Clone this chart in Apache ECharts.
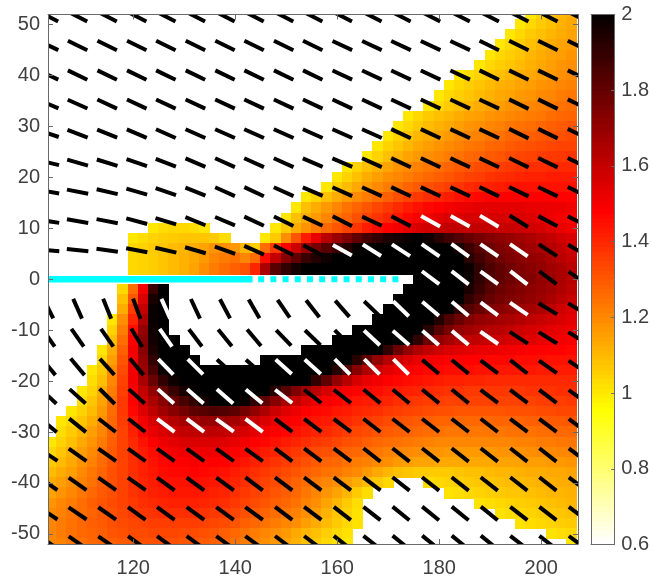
<!DOCTYPE html>
<html><head><meta charset="utf-8"><style>html,body{margin:0;padding:0;background:#fff}#c{width:652px;height:578px}</style>
<script src="https://cdn.jsdelivr.net/npm/echarts@6/dist/echarts.min.js"></script></head>
<body><div id="c"></div>
<script>
const _=n=>Array(n).fill(0), K=n=>Array(n).fill(200);
const xTicks=[120,140,160,180,200];
const yTicks=[-50,-40,-30,-20,-10,0,10,20,30,40,50];
const barTicks=[0.6,0.8,1,1.2,1.4,1.6,1.8,2];
const heatX=[];for(let x=104;x<=206;x+=2)heatX.push(x);
// field values x100, 0 = blank, per row
const h52=[..._(47),100,104,107,110,112];
const h50=[..._(46),100,103,106,108,111,113];
const h48=[..._(45),100,103,106,108,110,112,114];
const h46=[..._(44),100,103,105,108,110,112,114,115];
const h44=[..._(43),100,103,105,107,110,112,114,115,117];
const h42=[..._(42),100,103,105,107,109,111,113,115,117,118];
const h40=[..._(40),100,102,104,106,108,110,112,113,115,116,118,119];
const h38=[..._(39),100,103,105,107,109,111,112,114,115,117,118,120,121];
const h36=[..._(38),100,103,105,107,109,111,113,114,116,117,119,120,122,123];
const h34=[..._(37),100,103,106,108,110,112,114,115,117,118,120,121,122,124,125];
const h32=[..._(35),100,103,106,108,110,112,114,115,117,118,120,121,122,123,125,126,127];
const h30=[..._(34),100,103,106,109,111,113,115,117,118,120,121,123,124,125,126,128,129,130];
const h28=[..._(33),100,104,107,110,112,114,116,118,120,121,123,124,126,127,128,129,130,131,132];
const h26=[..._(32),100,104,107,110,113,115,117,119,121,123,124,126,127,129,130,131,132,133,134,134];
const h24=[..._(31),100,104,108,111,114,116,118,120,122,124,126,127,129,130,132,133,134,135,136,136,137];
const h22=[..._(29),100,104,108,111,114,117,119,121,123,125,127,129,130,132,133,135,136,137,138,138,139,139,139];
const h20=[..._(28),100,104,108,112,115,118,120,122,124,126,128,130,132,134,135,137,138,139,140,141,141,142,142,142];
const h18=[..._(27),100,105,109,113,116,119,122,124,127,129,131,133,135,137,139,140,141,142,143,144,144,144,144,144,144];
const h16=[..._(25),100,104,108,112,116,119,122,125,128,131,134,136,138,140,142,144,145,146,147,148,148,148,148,148,148,147,147];
const h14=[..._(24),100,108,112,116,120,124,127,130,133,136,139,142,144,146,148,150,151,152,153,153,153,153,153,152,152,151,151,150];
const h12=[..._(23),100,108,112,116,120,124,127,131,134,137,140,143,146,149,151,153,155,155,156,156,156,156,155,155,154,153,151,149,147];
const h10=[..._(10),100,102,103,103,102,100,..._(6),100,106,112,117,122,126,130,134,137,142,145,148,150,153,155,157,159,160,160,160,160,160,159,159,158,157,156,154,152,150];
const h8=[..._(8),100,102,104,105,106,107,107,107,106,102,..._(3),100,106,118,130,142,152,162,168,174,180,186,190,194,196,198,200,197,192,187,183,179,176,173,171,169,167,165,162,160,157,155];
const h6=[..._(8),103,104,106,107,109,110,112,114,117,118,116,110,105,125,136,148,158,168,175,182,188,193,198,...K(9),195,188,182,178,174,172,170,167,165,163,160,157];
const h4=[..._(8),103,104,105,107,109,111,113,116,120,122,124,120,125,145,160,172,180,188,193,197,...K(13),192,186,181,177,174,172,170,168,165,162,159];
const h2=[..._(8),103,104,105,107,109,111,114,118,122,125,128,130,140,165,182,190,196,...K(16),198,190,184,180,177,174,172,170,167,165,162];
const h0=[..._(36),...K(5),197,190,184,180,177,175,173,170,168,165,162,160].slice(0,52);
const hm2=[..._(7),103,125,150,188,200,..._(23),...K(6),195,188,182,178,175,173,171,169,167,164,161];
const hm4=[..._(7),108,130,155,195,200,..._(22),...K(7),190,184,179,176,174,172,170,168,165,162,159];
const hm6=[..._(7),112,135,160,198,200,..._(21),...K(7),190,183,178,174,172,170,168,166,164,161,158,155];
const hm8=[..._(6),100,118,140,165,198,200,..._(20),...K(6),193,184,178,173,170,168,166,165,163,161,159,157,155,153];
const hm10=[..._(6),104,122,145,170,197,200,..._(18),...K(7),192,182,175,170,167,165,163,162,160,158,156,155,153,152,151];
const hm12=[..._(6),108,125,148,172,196,200,200,..._(15),...K(8),190,178,170,166,163,161,160,159,158,156,155,154,152,151,150,149];
const hm14=[..._(5),100,112,128,150,172,194,200,200,200,..._(11),...K(8),190,178,170,164,160,157,155,154,153,152,152,151,150,149,148,148,147,147,146];
const hm16=[..._(5),103,115,130,150,170,190,200,200,200,200,..._(6),...K(9),192,180,170,163,158,155,152,150,149,148,148,147,147,146,146,146,145,145,145,144,144,144];
const hm18=[..._(4),100,106,118,132,150,168,185,198,...K(16),192,183,172,164,158,154,151,149,147,146,146,145,145,145,144,144,143,143,143,143,142,142,142,142];
const hm20=[..._(4),102,108,120,134,150,165,178,190,197,...K(13),190,180,170,162,156,152,150,148,146,145,144,143,142,141,141,140,140,139,139,139,139,139,139,139,139,139];
const hm22=[..._(3),100,104,112,122,135,148,160,170,180,188,195,199,...K(7),192,182,174,167,161,156,152,149,147,146,145,143,142,141,140,139,138,137,137,136,136,136,136,136,136,137,137,137,138,138];
const hm24=[..._(3),102,107,114,124,136,147,157,165,172,179,185,190,196,199,200,200,198,190,180,172,166,160,155,151,149,147,145,143,142,141,140,138,137,136,135,135,134,134,134,134,134,134,134,134,134,135,135,135,136];
const hm26=[..._(2),100,104,109,116,125,136,146,154,161,167,172,176,180,182,184,183,181,176,170,164,158,154,151,148,146,145,143,142,140,139,138,136,135,134,133,132,131,131,130,130,130,130,130,131,131,131,132,132,133,133];
const hm28=[0,100,103,107,112,118,126,135,143,150,156,160,163,166,168,169,169,168,166,163,159,155,152,149,147,145,143,142,140,139,137,135,134,132,131,130,129,128,127,127,126,126,126,126,127,127,127,128,128,129,129,130];
const hm30=[0,102,106,110,115,120,127,134,141,147,152,155,158,160,161,161,161,160,158,156,153,150,148,146,144,142,140,139,137,135,133,132,130,129,128,127,126,125,124,123,123,123,123,123,123,124,124,124,125,125,126,126];
const hm32=[100,104,108,113,117,122,128,134,139,144,148,151,153,155,155,155,155,154,152,150,148,146,144,142,140,138,136,135,133,131,130,128,126,125,124,123,122,121,120,120,120,120,120,120,120,120,121,121,122,122,123,123];
const hm34=[103,107,111,115,119,124,129,134,138,142,145,148,150,151,151,151,151,150,148,146,144,142,140,138,136,134,132,131,129,127,126,124,123,121,120,119,118,117,117,116,116,116,116,116,117,117,117,118,119,119,120,120];
const hm36=[106,109,113,117,121,125,130,134,138,141,144,146,148,148,149,148,148,147,145,143,141,139,137,135,133,131,129,127,126,124,122,121,119,118,116,115,114,114,113,113,113,113,113,113,114,114,114,115,115,116,116,117];
const hm38=[109,112,115,119,123,127,131,134,138,141,143,145,146,146,147,146,145,144,142,140,138,136,134,132,130,128,126,124,123,121,119,116,113,110,108,107,106,106,106,106,107,108,108,109,110,110,111,112,112,113,113,114];
const hm40=[112,115,118,121,124,128,131,134,137,140,142,144,144,144,145,144,143,142,140,138,136,134,132,130,127,125,122,120,118,115,112,109,106,103,0,0,0,102,103,104,105,106,107,107,108,109,109,110,111,111,112,112];
const hm42=[114,117,120,123,126,129,131,134,137,139,141,142,143,143,143,142,141,140,138,136,134,132,130,128,126,123,120,117,114,110,106,102,..._(7),101,102,103,104,105,106,107,107,108,109,110,110,111];
const hm44=[117,120,122,125,128,130,132,134,136,138,139,140,141,141,141,140,139,138,136,134,132,130,128,126,124,121,118,114,110,106,102,..._(11),101,102,103,104,105,106,107,108,109,110];
const hm46=[119,121,123,125,127,129,131,133,135,136,137,138,138,138,138,137,136,135,133,131,129,127,125,123,121,118,115,111,107,104,101,..._(13),101,102,103,104,105,106,107,108];
const hm48=[120,122,124,126,128,129,131,132,133,134,135,135,135,135,135,134,133,132,130,128,126,124,122,120,118,115,112,109,106,103,101,..._(15),101,102,103,104,105,106];
const hm50=[120,122,124,126,127,128,130,131,132,132,133,133,133,132,132,131,130,128,126,124,122,120,118,116,113,110,108,105,103,101,..._(19),101,102,103];
const hm52=[120,121,123,124,126,127,128,129,130,131,131,131,131,130,130,129,128,126,124,122,120,118,116,114,111,108,106,103,101,100,..._(21),100];
const heatRows=[h52,h50,h48,h46,h44,h42,h40,h38,h36,h34,h32,h30,h28,h26,h24,h22,h20,h18,h16,h14,h12,h10,h8,h6,h4,h2,h0,hm2,hm4,hm6,hm8,hm10,hm12,hm14,hm16,hm18,hm20,hm22,hm24,hm26,hm28,hm30,hm32,hm34,hm36,hm38,hm40,hm42,hm44,hm46,hm48,hm50,hm52];
// dash lattice
const dashX=[103.4,109.1,114.9,120.7,126.4,132.2,138,143.7,149.5,155.2,161,166.8,172.5,178.3,184.1,189.8,195.6,201.3,207.1];
const dashY=[51.6,45.9,40.1,34.4,28.6,22.9,17.2,11.4,5.7,0.3,-5.8,-11.5,-17.2,-23,-28.7,-34.5,-40.2,-46,-51.7];
const a0=[-27,-27,-27,-27,-27,-27,-27,-27,-27,-27,-27,-27,-27,-27,-27,-27,-27,-27,-27];
const a1=[-25,-26,-26,-26,-26,-26,-26,-26,-26,-26,-25,-25,-25,-25,-25,-26,-26,-26,-26];
const a2=[-25,-26,-26,-26,-26,-26,-26,-26,-26,-26,-25,-25,-25,-25,-25,-26,-26,-26,-26];
const a3=[-23,-24,-25,-25,-25,-25,-25,-25,-25,-25,-25,-25,-25,-25,-25,-25,-26,-26,-26];
const a4=[-18,-21,-22,-23,-24,-24,-24,-24,-24,-24,-24,-24,-25,-25,-25,-25,-26,-26,-26];
const a5=[-13,-16,-17,-19,-21,-23,-24,-24,-24,-23,-23,-24,-25,-25,-25,-25,-26,-26,-26];
const a6=[-10,-11,-13,-16,-19,-22,-24,-25,-24,-23,-24,-24,-25,-25,-25,-26,-26,-26,-26];
const a7=[-9,-10,-11,-15,-17,-22,-23,-25,-26,-25,-27,-25,-27,-29,-29,-31,-32,-28,-27];
const a8=[-5,-6,-8,-11,-13,-16,-20,-24,-26,-28,-29,-32,-33,-35,-36,-35,-35,-33,-30];
const a9=[null,null,null,null,null,null,null,null,null,null,null,null,null,-37,-38,-36,-38,-37,-35];
const a10=[-64,-66,-68,-70,-66,-65,-62,-60,-56,-52,-49,-44,-44,-40,-40,-37,-35,-31,-30];
const a11=[-55,-55,-55,-59,-55,-53,-51,-50,-46,-44,-45,-43,-41,-41,-40,-35,-33,-32,-32];
const a12=[-50,-50,-48,-50,-46,-45,-42,-41,-42,-42,-45,-45,-45,-40,-39,-37,-38,-35,-35];
const a13=[-43,-42,-45,-42,-42,-41,-41,-40,-38,-38,-38,-39,-40,-39,-39,-37,-37,-37,-36];
const a14=[-40,-39,-38,-38,-37,-37,-36,-37,-37,-37,-37,-38,-38,-38,-38,-38,-37,-37,-37];
const a15=[-34,-35,-35,-36,-36,-36,-36,-36,-37,-37,-37,-38,-38,-38,-38,-38,-38,-38,-37];
const a16=[-35,-35,-35,-35,-36,-36,-36,-37,-37,-37,-37,-37,-38,-38,-38,-38,-38,-38,-37];
const a17=[-34,-34,-35,-36,-36,-36,-36,-36,-37,-37,-38,-38,-39,-39,-39,-39,-38,-38,-37];
const a18=[-35,-35,-35,-36,-36,-36,-36,-36,-37,-37,-38,-38,-39,-39,-39,-39,-38,-38,-37];
const angleRows=[a0,a1,a2,a3,a4,a5,a6,a7,a8,a9,a10,a11,a12,a13,a14,a15,a16,a17,a18];
// dashes drawn white: row index -> column indices
const whiteDashes={7:[13,14,15],8:[10,11,12,13,14,15,16],9:[13,14,15,16],10:[4,12,13,14,15,16],11:[4,11,12,13,14,15],12:[4,5,8,9,10,11,12],13:[4,5,6,7,8],14:[4,5,6,7]};
const crackSolid=[[103.3,0],[143.4,0]];
const crackDotted=[[144.5,0],[172.7,0]];
const barLevels=[];for(let i=0;i<=112;i++)barLevels.push(0.6+i*0.0125);

heatRows.forEach((r,i)=>{if(r.length!==52)throw new Error('row '+i+' len '+r.length)});
const heatData=[];
heatRows.forEach((r,j)=>r.forEach((v,i)=>{if(v>0)heatData.push([heatX[i],52-2*j,v/100]);}));
const dashData=[];
angleRows.forEach((r,j)=>r.forEach((a,i)=>{if(a!==null)dashData.push([dashX[i],dashY[j],a,(whiteDashes[j]||[]).includes(i)?1:0]);}));

const chart=echarts.init(document.getElementById('c'),null,{renderer:'canvas'});
const AX='#6a6a6a',TX='#404040',FF='"Liberation Sans",Arial,sans-serif',FS=20;
const axisBase={axisLine:{show:true,onZero:false,lineStyle:{color:AX,width:1}},splitLine:{show:false},z:6};
function cellRender(p,api){
  const x=api.value(0),y=api.value(1);
  const a=api.coord([x-1,y+1]),b=api.coord([x+1,y-1]);
  const l=Math.floor(a[0]),t=Math.floor(a[1]),r=Math.ceil(b[0]),bt=Math.ceil(b[1]);
  return {type:'rect',shape:{x:l,y:t,width:r-l,height:bt-t},style:{fill:api.visual('color')}};
}
function barRender(p,api){
  const l=api.value(1);
  const a=api.coord([0,l+0.0125]),b=api.coord([1,l]);
  return {type:'rect',shape:{x:a[0],y:Math.floor(a[1]),width:b[0]-a[0],height:Math.ceil(b[1])-Math.floor(a[1])},style:{fill:api.visual('color')}};
}
function dashRender(p,api){
  const c=api.coord([api.value(0),api.value(1)]),th=api.value(2)*Math.PI/180,L=10.8;
  const dx=Math.cos(th)*L,dy=-Math.sin(th)*L;
  return {type:'line',shape:{x1:c[0]-dx,y1:c[1]-dy,x2:c[0]+dx,y2:c[1]+dy},
    style:{stroke:api.value(3)?'#ffffff':'#000000',lineWidth:4,lineCap:'butt',fill:null}};
}
chart.setOption({
  animation:false,backgroundColor:'#fff',
  grid:[{left:48,top:14.5,width:530,height:530},{left:591,top:14.5,width:25,height:530}],
  visualMap:{show:false,type:'continuous',min:0.6,max:2,dimension:2,seriesIndex:[0,1],
    inRange:{color:['#ffffff','#ffff80','#ffff00','#ffaa00','#ff5500','#ff0000','#aa0000','#550000','#000000']}},
  xAxis:[
    {...axisBase,type:'value',gridIndex:0,position:'bottom',min:103.3,max:207.2,
      axisTick:{show:true,inside:true,length:5,lineStyle:{color:AX},customValues:xTicks},
      axisLabel:{color:TX,fontFamily:FF,fontSize:FS,margin:14,customValues:xTicks}},
    {...axisBase,type:'value',gridIndex:0,position:'top',min:103.3,max:207.2,
      axisTick:{show:true,inside:true,length:5,lineStyle:{color:AX},customValues:xTicks},axisLabel:{show:false}},
    {...axisBase,type:'value',gridIndex:1,position:'bottom',min:0,max:1,axisTick:{show:false},axisLabel:{show:false}},
    {...axisBase,type:'value',gridIndex:1,position:'top',min:0,max:1,axisTick:{show:false},axisLabel:{show:false}}
  ],
  yAxis:[
    {...axisBase,type:'value',gridIndex:0,position:'left',min:-52,max:52,
      axisTick:{show:true,inside:true,length:5,lineStyle:{color:AX},customValues:yTicks},
      axisLabel:{color:TX,fontFamily:FF,fontSize:FS,margin:8,customValues:yTicks}},
    {...axisBase,type:'value',gridIndex:0,position:'right',min:-52,max:52,
      axisTick:{show:true,inside:true,length:5,lineStyle:{color:AX},customValues:yTicks},axisLabel:{show:false}},
    {...axisBase,type:'value',gridIndex:1,position:'right',min:0.6,max:2,
      axisTick:{show:true,inside:true,length:3,lineStyle:{color:AX},customValues:barTicks},
      axisLabel:{color:TX,fontFamily:FF,fontSize:FS,margin:7,customValues:barTicks}},
    {...axisBase,type:'value',gridIndex:1,position:'left',min:0.6,max:2,axisTick:{show:false},axisLabel:{show:false}}
  ],
  series:[
    {type:'custom',coordinateSystem:'cartesian2d',xAxisIndex:0,yAxisIndex:0,clip:true,z:1,silent:true,progressive:0,
      encode:{x:0,y:1},data:heatData,renderItem:cellRender},
    {type:'custom',coordinateSystem:'cartesian2d',xAxisIndex:2,yAxisIndex:2,clip:true,z:1,silent:true,progressive:0,
      encode:{x:0,y:1},data:barLevels.map(l=>[0,l,l]),renderItem:barRender},
    {type:'line',xAxisIndex:0,yAxisIndex:0,data:crackSolid,symbol:'none',z:3,silent:true,
      lineStyle:{color:'#00ffff',width:6.7,cap:'butt'}},
    {type:'line',xAxisIndex:0,yAxisIndex:0,data:crackDotted,symbol:'none',z:3,silent:true,
      lineStyle:{color:'#00ffff',width:6,cap:'butt',type:[6,6.2]}},
    {type:'custom',coordinateSystem:'cartesian2d',xAxisIndex:0,yAxisIndex:0,clip:true,z:4,silent:true,progressive:0,
      encode:{x:0,y:1},data:dashData,renderItem:dashRender}
  ]
});
</script></body></html>
